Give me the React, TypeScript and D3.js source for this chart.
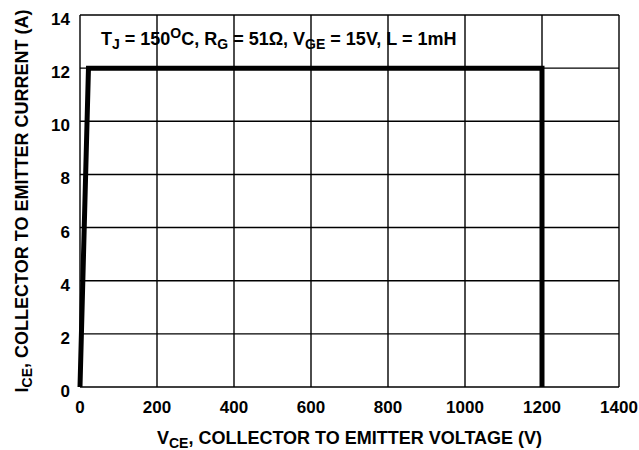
import React, { useEffect, useRef } from 'react';
import * as d3 from 'd3';

// safe operating area boundary (V, A)
const vce = [0, 22, 1200, 1200];
const ice = [0, 12, 12, 0];
const xTicks = [0, 200, 400, 600, 800, 1000, 1200, 1400];
const yTicks = [0, 2, 4, 6, 8, 10, 12, 14];

const W = 639, H = 450;
const m = { left: 80, right: 20, top: 15, bottom: 63 };

const App = () => {
    const svgRef = useRef<SVGSVGElement>(null);

    useEffect(() => {
        const svg = d3.select(svgRef.current);
        svg.selectAll('*').remove();
        const font = 'Liberation Sans, Arial, sans-serif';

        const x = d3.scaleLinear().domain([0, 1400]).range([m.left, W - m.right]);
        const y = d3.scaleLinear().domain([0, 14]).range([H - m.bottom, m.top]);

        const grid = svg.append('g');
        grid.selectAll('line.v').data(xTicks).enter().append('line')
            .attr('x1', d => x(d)).attr('x2', d => x(d))
            .attr('y1', y(0)).attr('y2', y(14))
            .attr('stroke', '#000').attr('stroke-width', 1.4);
        grid.selectAll('line.h').data(yTicks).enter().append('line')
            .attr('x1', x(0)).attr('x2', x(1400))
            .attr('y1', d => y(d)).attr('y2', d => y(d))
            .attr('stroke', '#000').attr('stroke-width', 1.4);

        svg.append('g').selectAll('text').data(xTicks).enter().append('text')
            .attr('x', d => x(d)).attr('y', y(0) + 26)
            .attr('text-anchor', 'middle')
            .attr('font-family', font).attr('font-weight', 'bold').attr('font-size', 17)
            .text(d => d);
        svg.append('g').selectAll('text').data(yTicks).enter().append('text')
            .attr('x', x(0) - 10).attr('y', d => y(d) + 10)
            .attr('text-anchor', 'end')
            .attr('font-family', font).attr('font-weight', 'bold').attr('font-size', 17)
            .text(d => d);

        const line = d3.line<number>().x((d, i) => x(vce[i])).y(d => y(d));
        svg.append('path').datum(ice)
            .attr('d', line)
            .attr('fill', 'none').attr('stroke', '#000').attr('stroke-width', 5)
            .attr('stroke-linejoin', 'miter');

        // annotation
        const ann = svg.append('text')
            .attr('x', 101).attr('y', 45)
            .attr('font-family', font).attr('font-weight', 'bold').attr('font-size', 18);
        const parts: [string, string][] = [
            ['T', ''], ['J', 'sub'], [' = 150', ''], ['O', 'sup'], ['C, R', ''], ['G', 'sub'],
            [' = 51\u03A9, V', ''], ['GE', 'sub'], [' = 15V, L = 1mH', '']
        ];
        let prev = '';
        parts.forEach(([t, k]) => {
            const ts = ann.append('tspan').text(t);
            let dy = 0;
            if (prev === 'sub') dy -= 4;
            if (prev === 'sup') dy += 7;
            if (k === 'sub') dy += 4;
            if (k === 'sup') dy -= 7;
            if (dy) ts.attr('dy', dy);
            if (k) ts.attr('font-size', 14);
            prev = k;
        });

        // x title
        const xt = svg.append('text')
            .attr('x', (x(0) + x(1400)) / 2).attr('y', 444)
            .attr('text-anchor', 'middle')
            .attr('font-family', font).attr('font-weight', 'bold').attr('font-size', 18);
        xt.append('tspan').text('V');
        xt.append('tspan').text('CE').attr('font-size', 14).attr('dy', 4);
        xt.append('tspan').text(', COLLECTOR TO EMITTER VOLTAGE (V)').attr('dy', -4);

        // y title
        const yt = svg.append('text')
            .attr('transform', `translate(28,${(y(0) + y(14)) / 2}) rotate(-90)`)
            .attr('text-anchor', 'middle')
            .attr('font-family', font).attr('font-weight', 'bold').attr('font-size', 18);
        yt.append('tspan').text('I');
        yt.append('tspan').text('CE').attr('font-size', 14).attr('dy', 4);
        yt.append('tspan').text(', COLLECTOR TO EMITTER CURRENT (A)').attr('dy', -4);
    }, []);

    return (
        <svg ref={svgRef} width={W} height={H}
            style={{ position: 'absolute', left: 0, top: 0, background: '#fff' }} />
    );
};

export default App;
